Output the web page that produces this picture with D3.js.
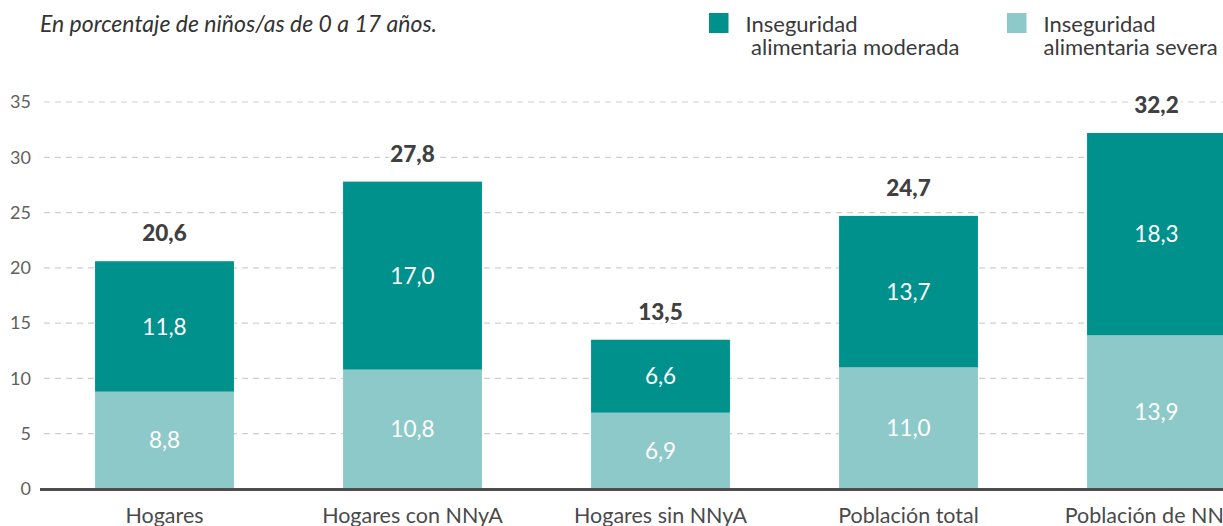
<!DOCTYPE html>
<html>
<head>
<meta charset="utf-8">
<script src="https://cdn.jsdelivr.net/npm/d3@7"></script>
<style>
  body { margin: 0; background: #fff; }
  svg { display: block; font-family: Lato, "Open Sans", sans-serif; }
</style>
</head>
<body>
<div id="chart"></div>
<script>
// data
var categories = ["Hogares", "Hogares con NNyA", "Hogares sin NNyA", "Población total", "Población de NNyA"];
var severa = [8.8, 10.8, 6.9, 11.0, 13.9];
var moderada = [11.8, 17.0, 6.6, 13.7, 18.3];
var totales = [20.6, 27.8, 13.5, 24.7, 32.2];
var yTicks = [0, 5, 10, 15, 20, 25, 30, 35];

var svgWidth = 1223;
var svgHeight = 526;

var colorModerada = "#00918d";
var colorSevera = "#8ec9c9";

var fmt = function(v) { return d3.format(".1f")(v).replace(".", ","); };

var svg = d3.select("#chart")
  .append("svg")
  .attr("width", svgWidth)
  .attr("height", svgHeight);

// scales
var x = d3.scaleBand()
  .domain(categories)
  .range([40.5, 1280.5])
  .paddingInner(0.44)
  .paddingOuter(0.22);

var y = d3.scaleLinear()
  .domain([0, 35])
  .range([489, 102]);

// gridlines
svg.append("g")
  .selectAll("line")
  .data(yTicks.filter(d => d > 0))
  .enter()
  .append("line")
  .attr("x1", 44)
  .attr("x2", svgWidth)
  .attr("y1", d => y(d))
  .attr("y2", d => y(d))
  .attr("stroke", "#cfcfcf")
  .attr("stroke-width", 1.2)
  .attr("stroke-dasharray", "6,5");

// y axis labels
var yAxis = svg.append("g")
  .attr("transform", "translate(31,0)")
  .call(d3.axisLeft(y).tickValues(yTicks).tickSize(0).tickPadding(0));
yAxis.select(".domain").remove();
yAxis.selectAll("text")
  .attr("fill", "#5f5f5f")
  .style("font-size", "18px")
  .style("font-family", "Lato, 'Open Sans', sans-serif");

// stacked data
var rows = categories.map(function(c, i) {
  return { cat: c, severa: severa[i], moderada: moderada[i], total: totales[i] };
});
var stack = d3.stack().keys(["severa", "moderada"])(rows);
var colors = { severa: colorSevera, moderada: colorModerada };

var layers = svg.append("g")
  .selectAll("g")
  .data(stack)
  .enter()
  .append("g")
  .attr("fill", d => colors[d.key]);

layers.selectAll("rect")
  .data(d => d)
  .enter()
  .append("rect")
  .attr("x", d => x(d.data.cat))
  .attr("width", x.bandwidth())
  .attr("y", d => y(d[1]))
  .attr("height", d => y(d[0]) - y(d[1]));

// inner values
layers.selectAll("text")
  .data(function(d) { return d.map(function(s) { return { s: s, key: d.key }; }); })
  .enter()
  .append("text")
  .attr("x", d => x(d.s.data.cat) + x.bandwidth() / 2)
  .attr("y", d => (y(d.s[0]) + y(d.s[1])) / 2)
  .attr("dy", "0.36em")
  .attr("text-anchor", "middle")
  .attr("fill", "#fff")
  .style("font-size", "22.5px")
  .text(d => fmt(d.s.data[d.key]));

// totals
svg.append("g")
  .selectAll("text")
  .data(rows)
  .enter()
  .append("text")
  .attr("x", d => x(d.cat) + x.bandwidth() / 2)
  .attr("y", d => y(d.total) - 20)
  .attr("text-anchor", "middle")
  .attr("fill", "#404040")
  .attr("stroke", "#fff")
  .attr("stroke-width", 7)
  .attr("paint-order", "stroke")
  .style("font-size", "22.5px")
  .style("font-weight", "900")
  .text(d => fmt(d.total));

// baseline
svg.append("line")
  .attr("x1", 40)
  .attr("x2", svgWidth)
  .attr("y1", y(0) + 0.5)
  .attr("y2", y(0) + 0.5)
  .attr("stroke", "#4d4d4d")
  .attr("stroke-width", 3);

// category labels
svg.append("g")
  .selectAll("text")
  .data(categories)
  .enter()
  .append("text")
  .attr("x", d => x(d) + x.bandwidth() / 2)
  .attr("y", 522.5)
  .attr("text-anchor", "middle")
  .attr("fill", "#4a4a4a")
  .style("font-size", "21.5px")
  .text(d => d);

// subtitle
svg.append("text")
  .attr("x", 40)
  .attr("y", 31.5)
  .attr("fill", "#333")
  .style("font-size", "23px")
  .style("font-style", "italic")
  .text("En porcentaje de niños/as de 0 a 17 años.");

// legend
var legend = [
  { color: colorModerada, x: 709, lines: ["Inseguridad", " alimentaria moderada"] },
  { color: colorSevera, x: 1007, lines: ["Inseguridad", "alimentaria severa"] }
];
var lg = svg.append("g")
  .selectAll("g")
  .data(legend)
  .enter()
  .append("g")
  .attr("transform", d => `translate(${d.x},13)`);

lg.append("rect")
  .attr("width", 19.5)
  .attr("height", 20)
  .attr("fill", d => d.color);

lg.selectAll("text")
  .data(d => d.lines)
  .enter()
  .append("text")
  .attr("x", d => d.startsWith(" ") ? 42 : 36.5)
  .attr("y", (d, i) => 18.5 + i * 23)
  .attr("fill", "#3a3a3a")
  .style("font-size", "22px")
  .text(d => d.trim());
</script>
</body>
</html>
